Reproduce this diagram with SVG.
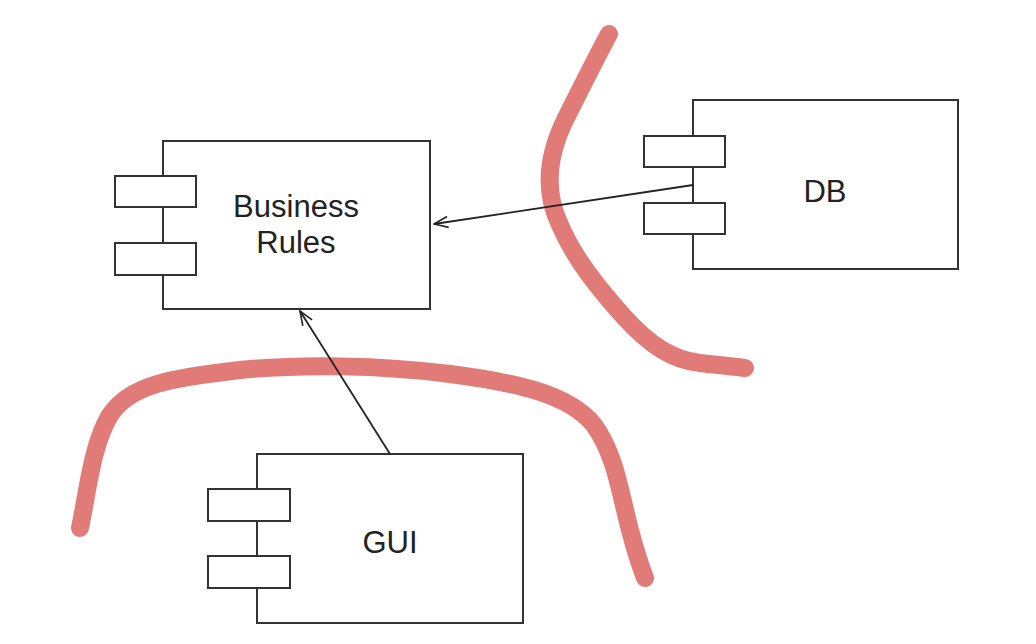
<svg xmlns="http://www.w3.org/2000/svg" width="1036" height="644" viewBox="0 0 1036 644">
  <defs>
    <marker id="open-arrow" markerWidth="16" markerHeight="14" refX="15" refY="7" orient="auto" markerUnits="userSpaceOnUse">
      <path d="M1,1.5 L15,7 L1,12.5" fill="none" stroke="#222" stroke-width="1.6"/>
    </marker>
  </defs>
  <style>
    .box { fill: #fff; stroke: #333; stroke-width: 2; }
    .port { fill: #fff; stroke: #333; stroke-width: 2; }
    .label { font-family: "Liberation Sans", Arial, sans-serif; font-size: 31px; fill: #222; text-anchor: middle; }
    .boundary { fill: none; stroke: #e07b78; stroke-width: 18; stroke-linecap: round; stroke-linejoin: round; }
    .dep { stroke: #222; stroke-width: 1.8; fill: none; marker-end: url(#open-arrow); }
  </style>
  <rect width="1036" height="644" fill="#fff"/>

  <!-- architectural boundaries -->
  <g id="boundaries">
    <path class="boundary" d="M609,34 C595,60 580,90 565,120 C548,155 543,190 560,225 C575,260 600,290 625,318 C650,345 672,360 700,363 C720,365 735,367 745,368"/>
    <path class="boundary" d="M80,528 C88,490 92,445 110,415 C130,385 170,378 240,370 C300,364 380,365 450,374 C520,383 570,395 594,425 C612,450 618,480 625,510 C632,540 640,565 645,578"/>
  </g>

  <!-- components -->
  <g id="business-rules">
    <rect class="box" x="163" y="141" width="267" height="168"/>
    <rect class="port" x="115" y="176" width="81" height="31"/>
    <rect class="port" x="115" y="243" width="81" height="32"/>
    <text class="label" x="296" y="217">Business</text>
    <text class="label" x="296" y="253">Rules</text>
  </g>

  <g id="db">
    <rect class="box" x="693" y="100" width="265" height="169"/>
    <rect class="port" x="644" y="136" width="81" height="31"/>
    <rect class="port" x="644" y="203" width="81" height="31"/>
    <text class="label" x="825" y="202">DB</text>
  </g>

  <g id="gui">
    <rect class="box" x="257" y="454" width="266" height="169"/>
    <rect class="port" x="208" y="489" width="82" height="32"/>
    <rect class="port" x="208" y="556" width="82" height="32"/>
    <text class="label" x="390" y="553">GUI</text>
  </g>

  <!-- dependencies -->
  <g id="connectors">
    <line class="dep" x1="693" y1="185" x2="434" y2="224"/>
    <line class="dep" x1="390" y1="454" x2="300" y2="311"/>
  </g>
</svg>
